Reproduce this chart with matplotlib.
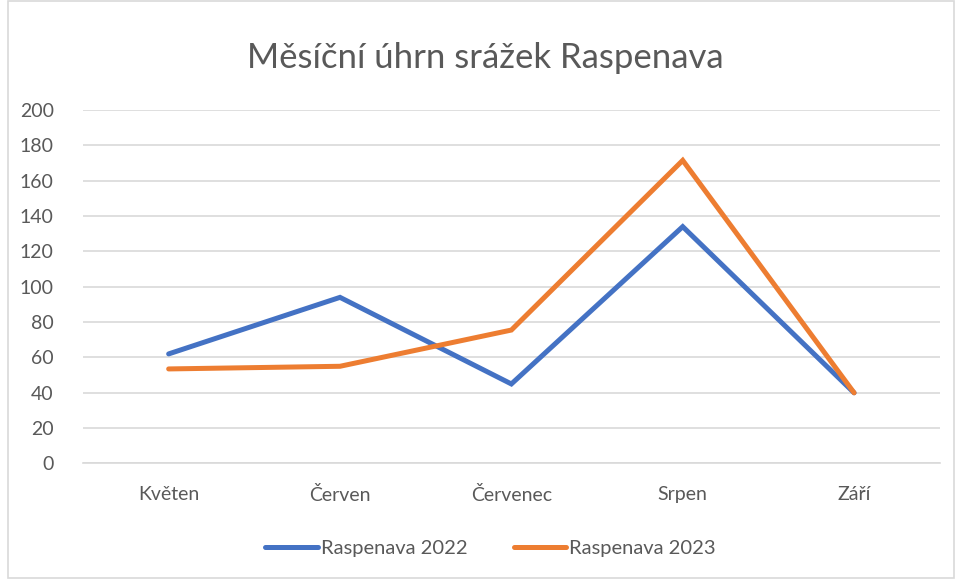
import matplotlib.pyplot as plt
import matplotlib
from matplotlib.patches import Rectangle

matplotlib.rcParams['font.family'] = ['Lato', 'DejaVu Sans']

# data
mesice = ['Květen', 'Červen', 'Červenec', 'Srpen', 'Září']
srazky_2022 = [62, 94, 45, 134, 40]
srazky_2023 = [53.5, 55, 75.5, 171.5, 40]
yticks = list(range(0, 201, 20))

text_color = '#595959'
grid_color = '#D9D9D9'

fig = plt.figure(figsize=(9.56, 5.79), dpi=100)
ax = fig.add_axes([0.0868, 0.1995, 0.8962, 0.6105])

x = range(len(mesice))
ax.plot(x, srazky_2022, color='#4472C4', lw=3.6, label='Raspenava 2022',
        solid_joinstyle='miter', solid_capstyle='round', zorder=3)
ax.plot(x, srazky_2023, color='#ED7D31', lw=3.6, label='Raspenava 2023',
        solid_joinstyle='miter', solid_capstyle='round', zorder=3)

ax.set_xlim(-0.5, len(mesice) - 0.5)
ax.set_ylim(0, 200)
ax.set_yticks(yticks)
ax.set_xticks(list(x))
ax.set_xticklabels(mesice)
ax.grid(axis='y', color=grid_color, lw=1.2)
ax.set_axisbelow(True)
for s in ['top', 'right', 'left']:
    ax.spines[s].set_visible(False)
ax.spines['bottom'].set_color(grid_color)
ax.spines['bottom'].set_linewidth(1.2)
ax.tick_params(length=0, labelsize=14, colors=text_color)
ax.tick_params(axis='x', pad=16)
ax.tick_params(axis='y', pad=21)

fig.text(0.508, 0.9, 'Měsíční úhrn srážek Raspenava', ha='center', va='center',
         fontsize=25, color=text_color)

fig.legend(loc='center', bbox_to_anchor=(0.513, 0.053), ncol=2, frameon=False,
           fontsize=14.5, labelcolor=text_color, handlelength=2.6, handletextpad=0.15,
           columnspacing=2.3)

# chart border
fig.patches.append(Rectangle((8 / 956, 1 / 579), 946 / 956, 577 / 579,
                             transform=fig.transFigure, fill=False,
                             edgecolor=grid_color, lw=1.2))

plt.savefig('out.png', dpi=100)
